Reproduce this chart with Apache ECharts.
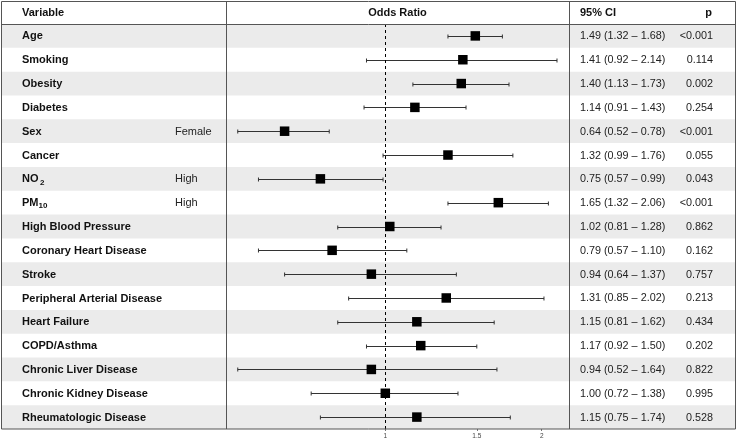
<!DOCTYPE html>
<html>
<head>
<meta charset="utf-8">
<script src="https://cdn.jsdelivr.net/npm/echarts@6/dist/echarts.min.js"></script>
<style>html,body{margin:0;padding:0;background:#fff}#c{width:738px;height:440px}</style>
</head>
<body>
<div id="c"></div>
<script>
const variables = ['Age','Smoking','Obesity','Diabetes','Sex','Cancer','NO{sp| }{sub|2}','PM{sub|10}','High Blood Pressure','Coronary Heart Disease','Stroke','Peripheral Arterial Disease','Heart Failure','COPD/Asthma','Chronic Liver Disease','Chronic Kidney Disease','Rheumatologic Disease'];
const subLabels = ['','','','','Female','','High','High','','','','','','','','',''];
const oddsRatio = [1.49,1.41,1.40,1.14,0.64,1.32,0.75,1.65,1.02,0.79,0.94,1.31,1.15,1.17,0.94,1.00,1.15];
const ciLower = [1.32,0.92,1.13,0.91,0.52,0.99,0.57,1.32,0.81,0.57,0.64,0.85,0.81,0.92,0.52,0.72,0.75];
const ciUpper = [1.68,2.14,1.73,1.43,0.78,1.76,0.99,2.06,1.28,1.10,1.37,2.02,1.62,1.50,1.64,1.38,1.74];
const pValues = ['<0.001','0.114','0.002','0.254','<0.001','0.055','0.043','<0.001','0.862','0.162','0.757','0.213','0.434','0.202','0.822','0.995','0.528'];
const tickValues = [1, 1.5, 2];

const idx = variables.map((_, i) => i);
const FONT = '"Liberation Sans", Arial, sans-serif';
const LINE = '#555';

const chart = echarts.init(document.getElementById('c'));
chart.setOption({
  animation: false,
  grid: {left: 226, right: 169, top: 24, bottom: 11},
  xAxis: {
    type: 'value', min: -0.706, max: 0.814,
    splitLine: {show: false},
    axisLine: {show: false},
    axisTick: {show: true, customValues: tickValues.map(Math.log), length: 2, lineStyle: {color: '#777'}},
    axisLabel: {customValues: tickValues.map(Math.log), formatter: v => String(Math.round(Math.exp(v) * 10) / 10), fontSize: 6.5, color: '#444', margin: 4, fontFamily: FONT}
  },
  yAxis: {type: 'category', data: idx, inverse: true, show: false},
  graphic: [
    {type: 'rect', z: 100, shape: {x: 1.5, y: 1.5, width: 734, height: 427.5}, style: {fill: 'none', stroke: LINE, lineWidth: 1}},
    {type: 'line', z: 100, shape: {x1: 1.5, y1: 24.5, x2: 735.5, y2: 24.5}, style: {stroke: LINE, lineWidth: 1}},
    {type: 'line', z: 100, shape: {x1: 226.5, y1: 1.5, x2: 226.5, y2: 429}, style: {stroke: LINE, lineWidth: 1}},
    {type: 'line', z: 100, shape: {x1: 569.5, y1: 1.5, x2: 569.5, y2: 429}, style: {stroke: LINE, lineWidth: 1}},
    {type: 'text', z: 100, style: {text: 'Variable', x: 22, y: 13, font: 'bold 11px ' + FONT, fill: '#111', textVerticalAlign: 'middle'}},
    {type: 'text', z: 100, style: {text: 'Odds Ratio', x: 397.5, y: 13, font: 'bold 11px ' + FONT, fill: '#111', textAlign: 'center', textVerticalAlign: 'middle'}},
    {type: 'text', z: 100, style: {text: '95% CI', x: 580, y: 13, font: 'bold 11px ' + FONT, fill: '#111', textVerticalAlign: 'middle'}},
    {type: 'text', z: 100, style: {text: 'p', x: 712, y: 13, font: 'bold 11px ' + FONT, fill: '#111', textAlign: 'right', textVerticalAlign: 'middle'}}
  ],
  series: [
    {
      type: 'custom', z: 0, silent: true, clip: false,
      data: idx.map(i => [0, i]),
      renderItem: (params, api) => {
        const i = api.value(1);
        const c = api.coord([0, i]);
        const h = api.size([0, 1])[1];
        const y = c[1] + 0.5;
        const children = [];
        if (i % 2 === 0) {
          children.push({type: 'rect', shape: {x: 2, y: c[1] - h / 2, width: 733, height: h}, style: {fill: '#ebebeb'}});
        }
        children.push({type: 'text', style: {text: variables[i], x: 22, y: y, font: 'bold 11px ' + FONT, fill: '#111', textVerticalAlign: 'middle',
          rich: {sub: {fontSize: 8, fontWeight: 'bold', fontFamily: FONT, verticalAlign: 'bottom', padding: [6, 0, 0, 0], fill: '#111'}, sp: {fontSize: 5}}}});
        if (subLabels[i]) {
          children.push({type: 'text', style: {text: subLabels[i], x: 175, y: y, font: '11px ' + FONT, fill: '#222', textVerticalAlign: 'middle'}});
        }
        children.push({type: 'text', style: {text: oddsRatio[i].toFixed(2) + ' (' + ciLower[i].toFixed(2) + ' \u2013 ' + ciUpper[i].toFixed(2) + ')', x: 580, y: y, font: '10.8px ' + FONT, fill: '#222', textVerticalAlign: 'middle'}});
        children.push({type: 'text', style: {text: pValues[i], x: 713, y: y, font: '10.8px ' + FONT, fill: '#222', textAlign: 'right', textVerticalAlign: 'middle'}});
        return {type: 'group', children};
      }
    },
    {
      type: 'custom', z: 3, silent: true,
      data: idx.map(i => [Math.log(ciLower[i]), Math.log(ciUpper[i]), i]),
      encode: {x: [0, 1], y: 2},
      renderItem: (params, api) => {
        const a = api.coord([api.value(0), api.value(2)]);
        const b = api.coord([api.value(1), api.value(2)]);
        const y = Math.round(a[1]) + 0.5;
        const st = {stroke: '#333', lineWidth: 1};
        return {type: 'group', children: [
          {type: 'line', shape: {x1: a[0], y1: y, x2: b[0], y2: y}, style: st},
          {type: 'line', shape: {x1: a[0], y1: y - 2, x2: a[0], y2: y + 2}, style: st},
          {type: 'line', shape: {x1: b[0], y1: y - 2, x2: b[0], y2: y + 2}, style: st}
        ]};
      }
    },
    {
      type: 'scatter', z: 4, silent: true,
      symbol: 'rect', symbolSize: 9.5,
      itemStyle: {color: '#000', opacity: 1},
      data: idx.map(i => [Math.log(oddsRatio[i]), i]),
      markLine: {silent: true, symbol: 'none', label: {show: false},
        lineStyle: {color: '#000', type: [3, 3], width: 1, opacity: 1},
        data: [{xAxis: Math.log(tickValues[0])}]}
    }
  ]
});
</script>
</body>
</html>
